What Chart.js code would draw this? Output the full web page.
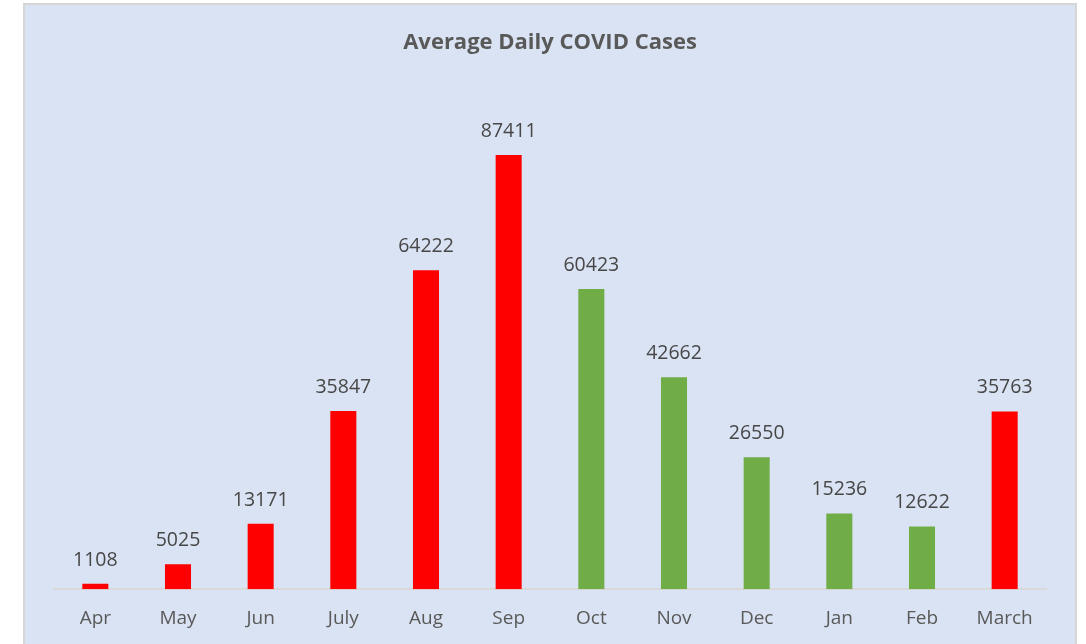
<!DOCTYPE html>
<html>
<head>
<meta charset="utf-8">
<script src="https://cdn.jsdelivr.net/npm/chart.js@4/dist/chart.umd.min.js"></script>
<style>
	body { margin: 0; background: #ffffff; overflow: hidden; }
	#caixa {
		position: absolute; left: 23px; top: 3px;
		width: 1050px; height: 660px;
		background: #dae3f3;
		border: 2px solid #d6d6d6;
		border-bottom: none;
	}
	#graficoCasos { position: absolute; left: 0; top: 0; }
</style>
</head>
<body>
<div id="caixa"><canvas id="graficoCasos" width="1050" height="644"></canvas></div>
<script>
	var meses = ['Apr', 'May', 'Jun', 'July', 'Aug', 'Sep', 'Oct', 'Nov', 'Dec', 'Jan', 'Feb', 'March'];
	var mediaCasos = [1108, 5025, 13171, 35847, 64222, 87411, 60423, 42662, 26550, 15236, 12622, 35763];
	var coresBarras = ['#ff0000', '#ff0000', '#ff0000', '#ff0000', '#ff0000', '#ff0000',
		'#70ad47', '#70ad47', '#70ad47', '#70ad47', '#70ad47', '#ff0000'];

	var _fonte = "'Open Sans', 'Noto Sans', sans-serif";
	var _corTexto = '#595959';

	// escreve o valor em cima de cada barra
	var rotulosBarras = {
		id: 'rotulosBarras',
		afterDatasetsDraw: function(chart) {
			var ctx = chart.ctx;
			ctx.save();
			ctx.font = '19.5px ' + _fonte;
			ctx.fillStyle = '#474747';
			ctx.textAlign = 'center';
			ctx.textBaseline = 'bottom';
			chart.getDatasetMeta(0).data.forEach(function(barra, i) {
				ctx.fillText(mediaCasos[i], barra.x, barra.y - 14);
			});
			ctx.restore();
		}
	};

	new Chart(document.getElementById('graficoCasos').getContext('2d'), {
		type: 'bar',
		data: {
			labels: meses,
			datasets: [{
				label: 'Casos',
				data: mediaCasos,
				backgroundColor: coresBarras,
				categoryPercentage: 1,
				barPercentage: 0.315
			}]
		},
		options: {
			responsive: false,
			animation: false,
			layout: { padding: { left: 29, right: 29, top: 0, bottom: 1 } },
			plugins: {
				legend: { display: false },
				tooltip: { enabled: false },
				title: {
					display: true,
					text: 'Average Daily COVID Cases',
					color: _corTexto,
					font: { family: _fonte, size: 22, weight: 'bold' },
					padding: { top: 25, bottom: 36 }
				}
			},
			scales: {
				x: {
					grid: { display: false, drawTicks: false },
					border: { color: '#d9d9d9', width: 2 },
					ticks: { color: _corTexto, font: { family: _fonte, size: 19 }, padding: 18 }
				},
				y: {
					display: false,
					min: 0,
					max: 100000
				}
			}
		},
		plugins: [rotulosBarras]
	});
</script>
</body>
</html>
